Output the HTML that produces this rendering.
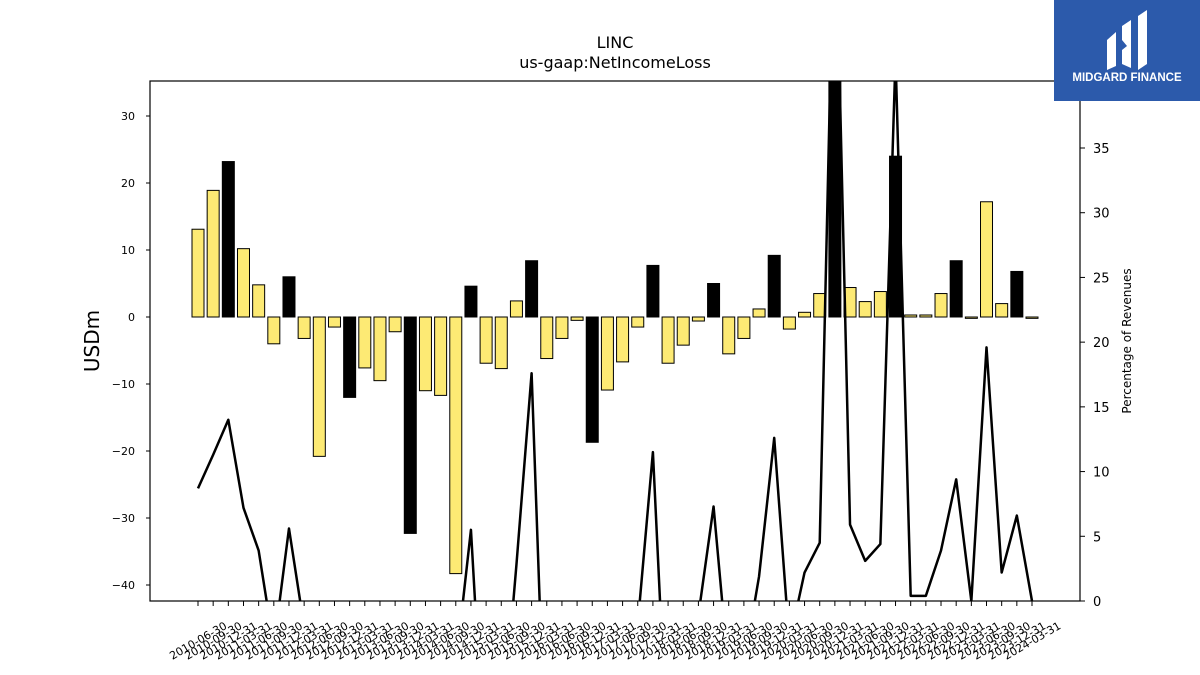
<!DOCTYPE html>
<html><head><meta charset="utf-8"><style>
html,body{margin:0;background:#fff;overflow:hidden;width:1200px;height:675px;}
svg{display:block;font-family:"DejaVu Sans","Liberation Sans",sans-serif;}
</style></head><body>
<svg id="chart" width="1200" height="675" viewBox="0 0 1200 675" xmlns="http://www.w3.org/2000/svg">
<rect width="1200" height="675" fill="#fff"/>
<text x="615" y="48" font-size="16" text-anchor="middle">LINC</text>
<text x="615" y="68" font-size="16" text-anchor="middle">us-gaap:NetIncomeLoss</text>
<text transform="translate(99,341) rotate(-90)" font-size="20" text-anchor="middle">USDm</text>
<text transform="translate(1131,341) rotate(-90)" font-size="12" text-anchor="middle">Percentage of Revenues</text>
<defs><clipPath id="pc"><rect x="150" y="81" width="930" height="520"/></clipPath></defs>
<g id="bars" clip-path="url(#pc)"></g>
<g id="line" clip-path="url(#pc)"></g>
<rect x="150" y="81" width="930" height="520" fill="none" stroke="#000" stroke-width="1.2"/>
<g id="axes"></g>
<g>
<rect x="1054" y="0" width="146" height="101" fill="#2c5aab"/>
<path d="M1107 40 L1116 32 L1116 66 L1107 70 Z" fill="#fff"/>
<path d="M1122 26 L1131 20 L1131 68 L1122 64 L1122 50 L1127 46 L1122 40 Z" fill="#fff"/>
<path d="M1138 16 L1147 10 L1147 64 L1138 70 Z" fill="#fff"/>
<text x="1127" y="81" font-size="11.5" font-weight="bold" fill="#fff" text-anchor="middle" font-family="Liberation Sans, sans-serif">MIDGARD FINANCE</text>
</g>
</svg>
<script>
const values=[13.1,18.9,23.2,10.2,4.8,-4,6,-3.2,-20.8,-1.5,-12,-7.6,-9.5,-2.2,-32.3,-11,-11.7,-38.3,4.6,-6.9,-7.7,2.4,8.4,-6.2,-3.2,-0.5,-18.7,-10.9,-6.7,-1.5,7.7,-6.9,-4.2,-0.6,5,-5.5,-3.2,1.2,9.2,-1.8,0.7,3.5,40,4.4,2.3,3.8,24,0.3,0.3,3.5,8.4,-0.2,17.2,2,6.8,-0.2];
const pct=[8.7,11.3,14,7.2,3.9,-3.5,5.6,-2,-5,-5,-5,-5,-5,-5,-5,-5,-5,-5,5.5,-15,-11,2.8,17.6,-15.5,-5,-5,-5,-5,-5,-1.8,11.5,-13,-5,-1.1,7.3,-5.6,-5,1.9,12.6,-3.2,2.2,4.5,56,5.9,3.1,4.4,42,0.4,0.4,3.9,9.4,0,19.6,2.2,6.6,0];
const leftTicks=[30,20,10,0,-10,-20,-30,-40];
const rightTicks=[0,5,10,15,20,25,30,35];
const labels=[];
for(let y=2010,m=6;labels.length<values.length;){const d={3:'31',6:'30',9:'30',12:'31'}[m];labels.push(y+'-'+String(m).padStart(2,'0')+'-'+d);m+=3;if(m>12){m=3;y++;}}
const NS='http://www.w3.org/2000/svg';
const X=i=>198+i*(1032-198)/(values.length-1);
const Y=v=>317-v*6.7;
const Y2=v=>601-v*(601-148)/35;
function mk(t,a,p){const e=document.createElementNS(NS,t);for(const k in a)e.setAttribute(k,a[k]);p.appendChild(e);return e;}
const bars=document.getElementById('bars'),line=document.getElementById('line'),axes=document.getElementById('axes');
values.forEach((v,i)=>{const y0=Y(0),y1=Y(v);
const r=mk('rect',{x:X(i)-6,y:Math.min(y0,y1),width:12,height:Math.max(Math.abs(y1-y0),0.8),fill:(i%4===2)?'#000':'#fdea74',stroke:'#000','stroke-width':1},bars);

});
const pl=mk('polyline',{points:pct.map((v,i)=>X(i)+','+Y2(v)).join(' '),fill:'none',stroke:'#000','stroke-width':2.5,'stroke-linejoin':'round'},line);


leftTicks.forEach(t=>{mk('line',{x1:146,x2:150,y1:Y(t),y2:Y(t),stroke:'#000'},axes);
const tx=mk('text',{x:135,y:Y(t)+4,'font-size':11,'text-anchor':'end'},axes);tx.textContent=t===0?'0':(t<0?'\u2212'+(-t):t);

});
rightTicks.forEach(t=>{mk('line',{x1:1080,x2:1085,y1:Y2(t),y2:Y2(t),stroke:'#000'},axes);
const tx=mk('text',{x:1093,y:Y2(t)+5,'font-size':13},axes);tx.textContent=t;

});
labels.forEach((l,i)=>{mk('line',{x1:X(i),x2:X(i),y1:601,y2:606,stroke:'#000'},axes);
const tx=mk('text',{transform:'translate('+(X(i)+2)+',644) rotate(-30)','font-size':11,'text-anchor':'middle'},axes);tx.textContent=l;

});
</script>
</body></html>
